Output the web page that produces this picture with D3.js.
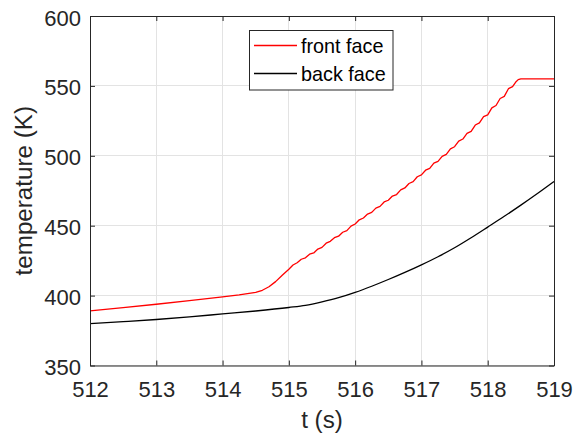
<!DOCTYPE html>
<html><head><meta charset="utf-8">
<script src="https://cdn.jsdelivr.net/npm/d3@7"></script>
<style>
html,body{margin:0;padding:0;background:#fff;}
svg{display:block;font-family:"Liberation Sans",Arial,sans-serif;}
</style></head>
<body><svg id="c" width="582" height="435"></svg>
<script>
const xTicks = [512,513,514,515,516,517,518,519];
const yTicks = [350,400,450,500,550,600];
const seriesNames = ["front face","back face"];
const seriesColors = ["#ff0000","#000000"];

const frontT = [512,512.5,513,513.5,514,514.25,514.5,514.6,514.7,514.8,514.9,515,
 515.0625,515.125,515.1875,515.25,515.3125,515.375,515.4375,515.5,515.5625,515.625,515.6875,515.75,515.8125,515.875,515.9375,
 516,516.0625,516.125,516.1875,516.25,516.3125,516.375,516.4375,516.5,516.5625,516.625,516.6875,516.75,516.8125,516.875,516.9375,
 517,517.0625,517.125,517.1875,517.25,517.3125,517.375,517.4375,517.5,517.5625,517.625,517.6875,517.75,517.8125,517.875,517.9375,
 518,518.0625,518.125,518.1875,518.25,518.3125,518.375,518.42,518.46,518.5,519];
const frontK = [389.0,391.4,393.8,396.4,399.1,400.5,402.3,403.8,406.3,410.0,414.5,418.8,
 421.9,423.5,426.0,427.0,429.6,430.5,433.3,434.5,437.5,438.8,441.4,442.5,445.3,446.5,449.7,
 451.2,454.2,455.5,458.3,459.5,462.6,463.8,467.0,468.2,471.2,472.3,475.6,477.0,480.2,481.5,485.0,
 486.4,489.7,491.0,494.7,496.0,499.6,501.0,505.0,506.5,510.5,512.0,516.1,517.5,522.0,523.5,528.0,
 529.3,534.3,536.0,541.0,542.5,548.0,549.5,552.6,554.5,555.0,555.0];

const backT = [512,512.5,513,513.5,514,514.5,515,515.25,515.5,515.75,516,516.25,516.5,516.75,517,517.25,517.5,517.75,518,518.25,518.5,518.75,519];
const backK = [380.0,381.4,382.9,384.8,386.9,389.0,391.5,393.0,395.5,398.5,402.3,406.7,411.5,416.6,422.0,427.8,434.2,441.4,449.0,456.7,464.7,473.0,481.6];

const svg = d3.select("#c");
const L=90, R=554, T=16, B=365.5;
const x = d3.scaleLinear().domain([512,519]).range([L,R]);
const y = d3.scaleLinear().domain([350,600]).range([B,T]);
const axisCol = "#262626";

// grid
svg.append("g").selectAll("line").data(xTicks).join("line")
  .attr("x1",d=>x(d)).attr("x2",d=>x(d)).attr("y1",T).attr("y2",B)
  .attr("stroke","#e3e3e3").attr("stroke-width",1).attr("shape-rendering","crispEdges");
svg.append("g").selectAll("line").data(yTicks).join("line")
  .attr("y1",d=>y(d)).attr("y2",d=>y(d)).attr("x1",L).attr("x2",R)
  .attr("stroke","#e3e3e3").attr("stroke-width",1).attr("shape-rendering","crispEdges");

// lines
const series = [
  {t:frontT,k:frontK,c:seriesColors[0],curve:d3.curveLinear},
  {t:backT,k:backK,c:seriesColors[1],curve:d3.curveMonotoneX}
];
series.forEach(s=>{
  const line = d3.line().x(d=>x(d[0])).y(d=>y(d[1])).curve(s.curve);
  svg.append("path").datum(s.t.map((t,i)=>[t,s.k[i]]))
    .attr("d",line).attr("fill","none").attr("stroke",s.c).attr("stroke-width",1.3)
    .attr("stroke-linejoin","round");
});

// axes (ticks inward)
function styleAxis(g){
  g.select(".domain").attr("stroke",axisCol);
  g.selectAll(".tick line").attr("stroke",axisCol);
}
const gB = svg.append("g").attr("transform",`translate(0,${B})`)
  .call(d3.axisBottom(x).tickValues(xTicks).tickSizeInner(-5).tickSizeOuter(0).tickPadding(0).tickFormat(d3.format("d")));
styleAxis(gB);
gB.selectAll(".tick text").attr("font-size","22px").attr("fill",axisCol).attr("y",31).attr("dy",0)
  .attr("font-family","Liberation Sans, Arial, sans-serif");
const gT = svg.append("g").attr("transform",`translate(0,${T})`)
  .call(d3.axisTop(x).tickValues(xTicks).tickSizeInner(-5).tickSizeOuter(0).tickFormat(""));
styleAxis(gT);
const gL = svg.append("g").attr("transform",`translate(${L},0)`)
  .call(d3.axisLeft(y).tickValues(yTicks).tickSizeInner(-5).tickSizeOuter(0).tickPadding(0).tickFormat(d3.format("d")));
styleAxis(gL);
gL.selectAll(".tick text").attr("font-size","22px").attr("fill",axisCol).attr("x",-9).attr("dy",0).attr("y",9)
  .attr("font-family","Liberation Sans, Arial, sans-serif");
const gR = svg.append("g").attr("transform",`translate(${R},0)`)
  .call(d3.axisRight(y).tickValues(yTicks).tickSizeInner(-5).tickSizeOuter(0).tickFormat(""));
styleAxis(gR);
svg.selectAll(".domain").attr("stroke-width",1);

// axis labels
svg.append("text").attr("x",(L+R)/2).attr("y",428).attr("text-anchor","middle")
  .attr("font-size","24.2px").attr("fill",axisCol).text("t (s)");
svg.append("text").attr("transform",`translate(32,${(T+B)/2}) rotate(-90)`).attr("text-anchor","middle")
  .attr("font-size","24.2px").attr("fill",axisCol).text("temperature (K)");

// legend
const lg = svg.append("g");
lg.append("rect").attr("x",249.5).attr("y",30.5).attr("width",143.5).attr("height",59.5)
  .attr("fill","#fff").attr("stroke",axisCol).attr("stroke-width",1);
seriesNames.forEach((n,i)=>{
  const yy = 45.5 + i*28;
  lg.append("line").attr("x1",254).attr("x2",297).attr("y1",yy).attr("y2",yy)
    .attr("stroke",seriesColors[i]).attr("stroke-width",1.3);
  lg.append("text").attr("x",301).attr("y",yy+7).attr("font-size","19.8px").attr("fill","#000").text(n);
});
</script></body></html>
